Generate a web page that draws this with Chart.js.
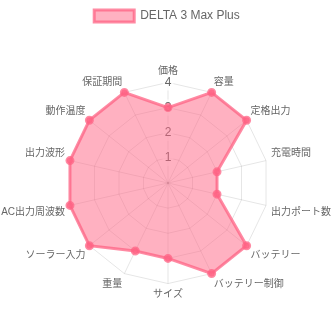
<!DOCTYPE html>
<html>
<head>
<meta charset="utf-8">
<script src="https://cdn.jsdelivr.net/npm/chart.js@4"></script>
<style>
html,body{margin:0;padding:0;background:#fff;}
#wrap{width:334px;height:334px;}
</style>
</head>
<body>
<div id="wrap"><canvas id="c"></canvas></div>
<script>
const categories = ["価格","容量","定格出力","充電時間","出力ポート数","バッテリー","バッテリー制御","サイズ","重量","ソーラー入力","AC出力周波数","出力波形","動作温度","保証期間"];
const seriesName = "DELTA 3 Max Plus";
const seriesValues = [3,4,4,2,2,4,4,3,3,4,4,4,4,4];
const tickValues = [1,2,3,4];

Chart.defaults.font.family = "'Liberation Sans', Arial, 'Noto Sans CJK JP', sans-serif";
new Chart(document.getElementById('c'), {
  type: 'radar',
  data: {
    labels: categories,
    datasets: [{
      label: seriesName,
      data: seriesValues,
      backgroundColor: 'rgba(255,99,132,0.5)',
      borderColor: 'rgba(255,99,132,0.75)',
      pointBackgroundColor: 'rgba(255,99,132,0.75)',
      pointBorderColor: 'rgba(255,99,132,0.75)',
      borderWidth: 3,
      pointRadius: 3
    }]
  },
  options: {
    responsive: true,
    maintainAspectRatio: false,
    animation: false,
    scales: {
      r: {
        min: 0,
        max: 4,
        ticks: { stepSize: 1, callback: v => tickValues.includes(v) ? v : '' },
        pointLabels: { font: { size: 10 }, padding: -3 }
      }
    }
  }
});
</script>
</body>
</html>
